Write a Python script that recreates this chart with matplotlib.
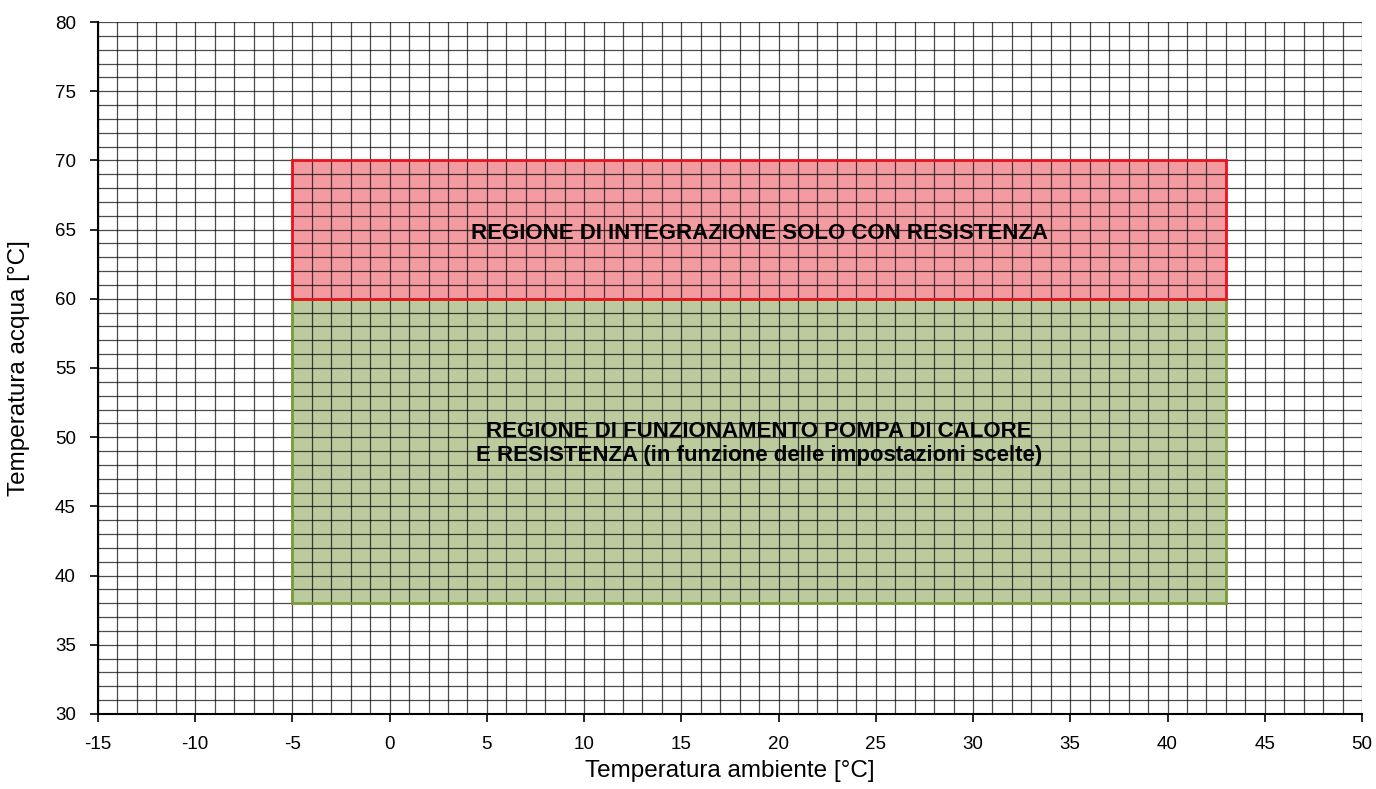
import matplotlib
matplotlib.use("Agg")
import matplotlib.pyplot as plt
from matplotlib.patches import Rectangle
import numpy as np

plt.rcParams['font.family'] = ['Liberation Sans', 'DejaVu Sans']

x_range = [-15, 50]
y_range = [30, 80]
x_ticks = [-15, -10, -5, 0, 5, 10, 15, 20, 25, 30, 35, 40, 45, 50]
y_ticks = [30, 35, 40, 45, 50, 55, 60, 65, 70, 75, 80]

# regions: (x_min, x_max, y_min, y_max)
red_region = [-5, 43, 60, 70]
green_region = [-5, 43, 38, 60]
red_label = "REGIONE DI INTEGRAZIONE SOLO CON RESISTENZA"
green_label = "REGIONE DI FUNZIONAMENTO POMPA DI CALORE\nE RESISTENZA (in funzione delle impostazioni scelte)"

fig = plt.figure(figsize=(13.76, 7.89), dpi=100)
ax = fig.add_axes([0.0712, 0.0951, 0.9898 - 0.0712, 0.9721 - 0.0951])
ax.set_xlim(*x_range)
ax.set_ylim(*y_range)

# fills
ax.add_patch(Rectangle((green_region[0], green_region[2]),
                       green_region[1] - green_region[0], green_region[3] - green_region[2],
                       facecolor='#bccb9e', edgecolor='none', zorder=1))
ax.add_patch(Rectangle((red_region[0], red_region[2]),
                       red_region[1] - red_region[0], red_region[3] - red_region[2],
                       facecolor='#f39ba0', edgecolor='none', zorder=1))

# grid
ax.set_xticks(np.arange(x_range[0], x_range[1] + 1, 1), minor=True)
ax.set_yticks(np.arange(y_range[0], y_range[1] + 1, 1), minor=True)
ax.grid(which='both', color='#000000', linewidth=0.9, alpha=0.7, zorder=2)
ax.set_axisbelow(False)

# outlines
ax.add_patch(Rectangle((green_region[0], green_region[2]),
                       green_region[1] - green_region[0], green_region[3] - green_region[2],
                       facecolor='none', edgecolor='#7b9a3c', linewidth=2, zorder=3))
ax.add_patch(Rectangle((red_region[0], red_region[2]),
                       red_region[1] - red_region[0], red_region[3] - red_region[2],
                       facecolor='none', edgecolor='#e8141e', linewidth=2, zorder=4))

ax.text((red_region[0] + red_region[1]) / 2, 64.75, red_label,
        ha='center', va='center', fontsize=16, fontweight='bold', zorder=5)
ax.text((green_region[0] + green_region[1]) / 2, 49.55, green_label,
        ha='center', va='center', fontsize=16, fontweight='bold', zorder=5, linespacing=1.2)

ax.set_xticks(x_ticks)
ax.set_yticks(y_ticks)
ax.set_xticklabels([str(t) for t in x_ticks], fontsize=13.5)
ax.set_yticklabels([str(t) for t in y_ticks], fontsize=13.5)
ax.tick_params(which='major', direction='out', length=6, width=1.2, pad=10)
ax.tick_params(which='minor', length=0)
ax.spines['top'].set_visible(False)
ax.spines['right'].set_visible(False)
ax.spines['left'].set_linewidth(1.5)
ax.spines['bottom'].set_linewidth(1.5)
ax.spines['left'].set_zorder(6)
ax.spines['bottom'].set_zorder(6)

ax.set_xlabel('Temperatura ambiente [°C]', fontsize=17.5, va='center')
ax.set_ylabel('Temperatura acqua [°C]', fontsize=17.5, va='center')
ax.xaxis.set_label_coords(0.5, (714 - 771) / 692)
ax.yaxis.set_label_coords((19 - 98) / 1264, 0.5)

fig.savefig('out.png', dpi=100)
